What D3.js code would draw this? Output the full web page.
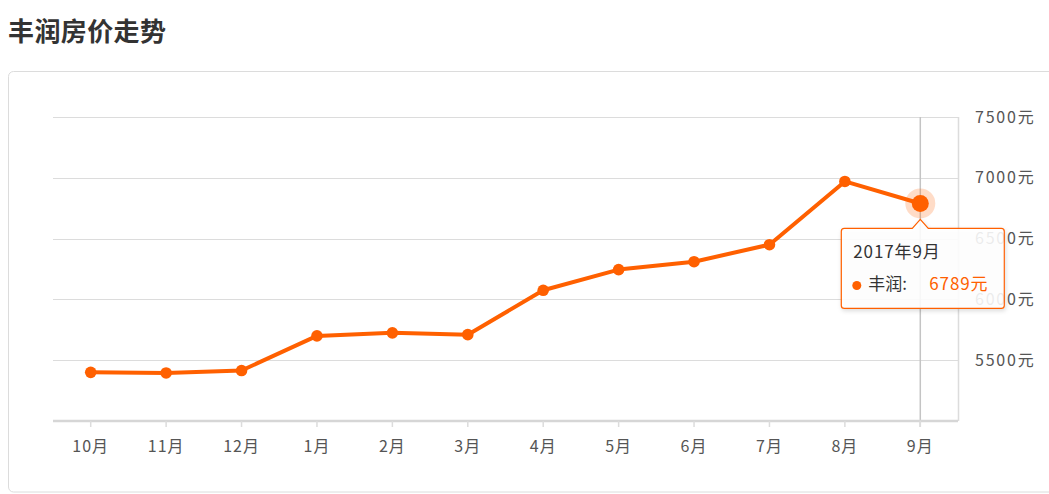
<!DOCTYPE html>
<html>
<head>
<meta charset="utf-8">
<script src="https://cdn.jsdelivr.net/npm/d3@7"></script>
<style>
  html, body { margin: 0; padding: 0; background: #fff; }
  svg { display: block; font-family: "Noto Sans CJK SC", "Noto Sans", sans-serif; }
</style>
</head>
<body>
<svg id="chart" width="1049" height="494"></svg>
<script>
// ---- data ----
const title = "丰润房价走势";
const seriesName = "丰润";
const months = ["10月", "11月", "12月", "1月", "2月", "3月", "4月", "5月", "6月", "7月", "8月", "9月"];
const prices = [5400, 5395, 5415, 5700, 5725, 5710, 6075, 6245, 6310, 6450, 6970, 6789];
const yTicks = [5500, 6000, 6500, 7000, 7500];
const yDomain = [5000, 7500];
const hoverIndex = 11;
const hoverLabel = "2017年9月";
const unit = "元";

// ---- layout ----
const orange = "#ff6000";
const svg = d3.select("#chart");
const plot = { left: 53, right: 958, top: 117, bottom: 421 };

const defs = svg.append("defs");
const f = defs.append("filter").attr("id", "shadow").attr("x", "-20%").attr("y", "-20%").attr("width", "140%").attr("height", "140%");
f.append("feDropShadow").attr("dx", 1).attr("dy", 2).attr("stdDeviation", 2).attr("flood-color", "#000").attr("flood-opacity", 0.15);

// title
svg.append("text")
  .attr("x", 8).attr("y", 41)
  .attr("font-size", 26).attr("font-weight", "bold").attr("fill", "#333")
  .attr("letter-spacing", 0.4)
  .text(title);

// card
svg.append("rect")
  .attr("x", 8.5).attr("y", 71.5).attr("width", 1100).attr("height", 420.5)
  .attr("rx", 5).attr("fill", "none").attr("stroke", "#dcdcdc");

const x = d3.scaleBand().domain(months).range([plot.left, plot.right]);
const y = d3.scaleLinear().domain(yDomain).range([plot.bottom, plot.top]);
const cx = d => x(d) + x.bandwidth() / 2;

// horizontal gridlines
svg.append("g").selectAll("line").data(yTicks).join("line")
  .attr("x1", plot.left).attr("x2", plot.right)
  .attr("y1", d => Math.round(y(d)) + 0.5).attr("y2", d => Math.round(y(d)) + 0.5)
  .attr("stroke", "#dcdcdc").attr("stroke-width", 1.2);

// right vertical border line
svg.append("line")
  .attr("x1", plot.right + 0.5).attr("x2", plot.right + 0.5)
  .attr("y1", Math.round(y(yDomain[1]))).attr("y2", plot.bottom)
  .attr("stroke", "#dcdcdc").attr("stroke-width", 1.5);

// y axis labels (right)
const yAxis = svg.append("g")
  .attr("transform", `translate(${plot.right + 17},0)`)
  .call(d3.axisRight(y).tickValues(yTicks).tickSize(0).tickPadding(0).tickFormat(d => d + unit));
yAxis.select(".domain").remove();
yAxis.selectAll("text")
  .attr("font-size", 16).attr("fill", "#555").attr("letter-spacing", 1.8)
  .attr("font-family", "\"Noto Sans CJK SC\", sans-serif");

// hover crosshair
svg.append("line")
  .attr("x1", cx(months[hoverIndex])).attr("x2", cx(months[hoverIndex]))
  .attr("y1", Math.round(y(yDomain[1]))).attr("y2", plot.bottom + 6)
  .attr("stroke", "#c4c4c4").attr("stroke-width", 1.5);

// x axis
const xAxis = svg.append("g")
  .attr("transform", `translate(0,${plot.bottom})`)
  .call(d3.axisBottom(x).tickSize(6).tickSizeOuter(0).tickPadding(14));
xAxis.select(".domain").attr("stroke", "#d6d6d6").attr("stroke-width", 2.5)
  .attr("d", `M${plot.left},0H${plot.right}`);
xAxis.selectAll(".tick line").attr("stroke", "#dcdcdc").attr("stroke-width", 1.5);
xAxis.selectAll(".tick text")
  .attr("font-size", 16).attr("fill", "#555").attr("letter-spacing", 1)
  .attr("font-family", "\"Noto Sans CJK SC\", sans-serif");

// line
const data = months.map((m, i) => ({ m, v: prices[i] }));
svg.append("path").datum(data)
  .attr("fill", "none").attr("stroke", orange).attr("stroke-width", 4)
  .attr("stroke-linejoin", "round")
  .attr("d", d3.line().x(d => cx(d.m)).y(d => y(d.v)));

svg.append("g").selectAll("circle").data(data.filter((d, i) => i !== hoverIndex)).join("circle")
  .attr("cx", d => cx(d.m)).attr("cy", d => y(d.v)).attr("r", 5.8).attr("fill", orange);

// hovered point
const hp = data[hoverIndex];
const hx = cx(hp.m), hy = y(hp.v);
svg.append("circle").attr("cx", hx).attr("cy", hy).attr("r", 15).attr("fill", orange).attr("opacity", 0.22);
svg.append("circle").attr("cx", hx).attr("cy", hy).attr("r", 8.5).attr("fill", orange);

// tooltip
const tl = hx - 79, tt = hy + 25, tw = 163, th = 80, r = 3, aw = 8, ah = 9;
const tp = `M${tl + r},${tt} L${hx - aw},${tt} L${hx},${tt - ah} L${hx + aw},${tt} L${tl + tw - r},${tt}
  Q${tl + tw},${tt} ${tl + tw},${tt + r} L${tl + tw},${tt + th - r} Q${tl + tw},${tt + th} ${tl + tw - r},${tt + th}
  L${tl + r},${tt + th} Q${tl},${tt + th} ${tl},${tt + th - r} L${tl},${tt + r} Q${tl},${tt} ${tl + r},${tt} Z`;
const tip = svg.append("g");
tip.append("path").attr("d", tp)
  .attr("fill", "rgba(255,255,255,0.88)").attr("stroke", orange).attr("stroke-width", 1.2)
  .attr("filter", "url(#shadow)");
tip.append("text").attr("x", tl + 12).attr("y", tt + 30)
  .attr("font-size", 17).attr("fill", "#333").attr("letter-spacing", 0.9)
  .text(hoverLabel);
tip.append("circle").attr("cx", tl + 15.5).attr("cy", tt + 57).attr("r", 4.5).attr("fill", orange);
tip.append("text").attr("x", tl + 27).attr("y", tt + 62)
  .attr("font-size", 17).attr("fill", "#333")
  .text(seriesName + ":");
tip.append("text").attr("x", tl + 88).attr("y", tt + 62)
  .attr("font-size", 17).attr("fill", orange).attr("letter-spacing", 0.9)
  .text(hp.v + unit);
</script>
</body>
</html>
